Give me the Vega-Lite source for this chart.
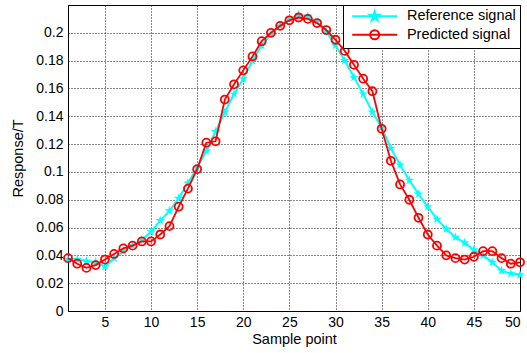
{
  "$schema": "https://vega.github.io/schema/vega-lite/v6.json",
  "width": 452,
  "height": 306,
  "autosize": {"type": "none"},
  "padding": {"left": 68, "top": 5, "right": 7, "bottom": 42},
  "background": "white",
  "config": {
    "font": "Liberation Sans",
    "view": {"stroke": "#000", "strokeWidth": 1},
    "axis": {
      "labelFont": "Liberation Sans", "labelFontSize": 14, "labelColor": "#000",
      "titleFont": "Liberation Sans", "titleFontSize": 14.5, "titleFontWeight": "normal", "titleColor": "#000",
      "domainColor": "#000", "grid": true, "gridColor": "#111", "gridDash": [1, 2], "gridOpacity": 1, "ticks": false
    }
  },
  "data": {"values": [
    {"x":1,"series":"Reference signal","v":0.037},{"x":2,"series":"Reference signal","v":0.037},{"x":3,"series":"Reference signal","v":0.036},{"x":4,"series":"Reference signal","v":0.035},{"x":5,"series":"Reference signal","v":0.032},
    {"x":6,"series":"Reference signal","v":0.038},{"x":7,"series":"Reference signal","v":0.043},{"x":8,"series":"Reference signal","v":0.047},{"x":9,"series":"Reference signal","v":0.051},{"x":10,"series":"Reference signal","v":0.057},
    {"x":11,"series":"Reference signal","v":0.065},{"x":12,"series":"Reference signal","v":0.072},{"x":13,"series":"Reference signal","v":0.081},{"x":14,"series":"Reference signal","v":0.092},{"x":15,"series":"Reference signal","v":0.103},
    {"x":16,"series":"Reference signal","v":0.115},{"x":17,"series":"Reference signal","v":0.129},{"x":18,"series":"Reference signal","v":0.143},{"x":19,"series":"Reference signal","v":0.156},{"x":20,"series":"Reference signal","v":0.167},
    {"x":21,"series":"Reference signal","v":0.180},{"x":22,"series":"Reference signal","v":0.191},{"x":23,"series":"Reference signal","v":0.199},{"x":24,"series":"Reference signal","v":0.205},{"x":25,"series":"Reference signal","v":0.210},
    {"x":26,"series":"Reference signal","v":0.213},{"x":27,"series":"Reference signal","v":0.212},{"x":28,"series":"Reference signal","v":0.208},{"x":29,"series":"Reference signal","v":0.201},{"x":30,"series":"Reference signal","v":0.191},
    {"x":31,"series":"Reference signal","v":0.180},{"x":32,"series":"Reference signal","v":0.168},{"x":33,"series":"Reference signal","v":0.156},{"x":34,"series":"Reference signal","v":0.143},{"x":35,"series":"Reference signal","v":0.132},
    {"x":36,"series":"Reference signal","v":0.117},{"x":37,"series":"Reference signal","v":0.105},{"x":38,"series":"Reference signal","v":0.094},{"x":39,"series":"Reference signal","v":0.084},{"x":40,"series":"Reference signal","v":0.075},
    {"x":41,"series":"Reference signal","v":0.066},{"x":42,"series":"Reference signal","v":0.059},{"x":43,"series":"Reference signal","v":0.053},{"x":44,"series":"Reference signal","v":0.049},{"x":45,"series":"Reference signal","v":0.044},
    {"x":46,"series":"Reference signal","v":0.040},{"x":47,"series":"Reference signal","v":0.035},{"x":48,"series":"Reference signal","v":0.029},{"x":49,"series":"Reference signal","v":0.027},{"x":50,"series":"Reference signal","v":0.026},
    {"x":1,"series":"Predicted signal","v":0.038},{"x":2,"series":"Predicted signal","v":0.034},{"x":3,"series":"Predicted signal","v":0.031},{"x":4,"series":"Predicted signal","v":0.033},{"x":5,"series":"Predicted signal","v":0.037},
    {"x":6,"series":"Predicted signal","v":0.041},{"x":7,"series":"Predicted signal","v":0.045},{"x":8,"series":"Predicted signal","v":0.047},{"x":9,"series":"Predicted signal","v":0.050},{"x":10,"series":"Predicted signal","v":0.050},
    {"x":11,"series":"Predicted signal","v":0.055},{"x":12,"series":"Predicted signal","v":0.061},{"x":13,"series":"Predicted signal","v":0.075},{"x":14,"series":"Predicted signal","v":0.088},{"x":15,"series":"Predicted signal","v":0.102},
    {"x":16,"series":"Predicted signal","v":0.121},{"x":17,"series":"Predicted signal","v":0.122},{"x":18,"series":"Predicted signal","v":0.152},{"x":19,"series":"Predicted signal","v":0.163},{"x":20,"series":"Predicted signal","v":0.173},
    {"x":21,"series":"Predicted signal","v":0.183},{"x":22,"series":"Predicted signal","v":0.194},{"x":23,"series":"Predicted signal","v":0.200},{"x":24,"series":"Predicted signal","v":0.205},{"x":25,"series":"Predicted signal","v":0.209},
    {"x":26,"series":"Predicted signal","v":0.211},{"x":27,"series":"Predicted signal","v":0.210},{"x":28,"series":"Predicted signal","v":0.207},{"x":29,"series":"Predicted signal","v":0.202},{"x":30,"series":"Predicted signal","v":0.195},
    {"x":31,"series":"Predicted signal","v":0.187},{"x":32,"series":"Predicted signal","v":0.177},{"x":33,"series":"Predicted signal","v":0.167},{"x":34,"series":"Predicted signal","v":0.158},{"x":35,"series":"Predicted signal","v":0.131},
    {"x":36,"series":"Predicted signal","v":0.108},{"x":37,"series":"Predicted signal","v":0.091},{"x":38,"series":"Predicted signal","v":0.080},{"x":39,"series":"Predicted signal","v":0.067},{"x":40,"series":"Predicted signal","v":0.055},
    {"x":41,"series":"Predicted signal","v":0.047},{"x":42,"series":"Predicted signal","v":0.040},{"x":43,"series":"Predicted signal","v":0.038},{"x":44,"series":"Predicted signal","v":0.037},{"x":45,"series":"Predicted signal","v":0.039},
    {"x":46,"series":"Predicted signal","v":0.043},{"x":47,"series":"Predicted signal","v":0.043},{"x":48,"series":"Predicted signal","v":0.038},{"x":49,"series":"Predicted signal","v":0.034},{"x":50,"series":"Predicted signal","v":0.035}
  ]},
  "encoding": {
    "x": {"field": "x", "type": "quantitative",
      "scale": {"domain": [1, 50], "nice": false, "zero": false},
      "axis": {"values": [5, 10, 15, 20, 25, 30, 35, 40, 45, 50], "title": "Sample point", "labelPadding": 4, "titlePadding": 3}},
    "y": {"field": "v", "type": "quantitative",
      "scale": {"domain": [0, 0.22], "nice": false},
      "axis": {"values": [0, 0.02, 0.04, 0.06, 0.08, 0.1, 0.12, 0.14, 0.16, 0.18, 0.2], "format": "~g", "title": "Response/T", "labelPadding": 5, "titlePadding": 10}},
    "color": {"field": "series", "type": "nominal",
      "scale": {"domain": ["Reference signal", "Predicted signal"], "range": ["#00ffff", "#ff0000"]},
      "legend": {
        "orient": "top-right", "offset": 0, "title": null,
        "fillColor": "white", "strokeColor": "#000", "padding": 4, "rowPadding": 0.5,
        "labelFont": "Liberation Sans", "labelFontSize": 14.5, "labelColor": "#000",
        "symbolSize": 100, "symbolOffset": 20.45, "labelOffset": 25, "symbolStrokeWidth": 2,
        "encode": {"symbols": {"update": {
          "shape": {"signal": "datum.value === 'Reference signal' ? 'M-4.5,0L4.5,0M0,-1L0.225,-0.309L0.951,-0.309L0.363,0.118L0.588,0.809L0,0.382L-0.588,0.809L-0.363,0.118L-0.951,-0.309L-0.225,-0.309Z' : 'M-4.5,0L4.5,0M0.9,0A0.9,0.9 0 1,1 -0.9,0A0.9,0.9 0 1,1 0.9,0'"},
          "fill": {"signal": "datum.value === 'Reference signal' ? '#00ffff' : 'transparent'"},
          "fillOpacity": {"signal": "datum.value === 'Reference signal' ? 1 : 0"},
          "stroke": {"signal": "datum.value === 'Reference signal' ? '#00ffff' : '#ff0000'"},
          "strokeWidth": {"value": 2},
          "opacity": {"value": 1}
        }}}
      }
    }
  },
  "layer": [
    {"transform": [{"filter": "datum.series === 'Reference signal'"}], "mark": {"type": "line", "strokeWidth": 2}},
    {"transform": [{"filter": "datum.series === 'Reference signal'"}], "mark": {"type": "point", "shape": "M0,-1L0.225,-0.309L0.951,-0.309L0.363,0.118L0.588,0.809L0,0.382L-0.588,0.809L-0.363,0.118L-0.951,-0.309L-0.225,-0.309Z", "filled": true, "size": 100, "opacity": 1}},
    {"transform": [{"filter": "datum.series === 'Predicted signal'"}], "mark": {"type": "line", "strokeWidth": 1.8}},
    {"transform": [{"filter": "datum.series === 'Predicted signal'"}], "mark": {"type": "point", "shape": "circle", "filled": false, "size": 64, "strokeWidth": 1.8, "opacity": 1}}
  ]
}
